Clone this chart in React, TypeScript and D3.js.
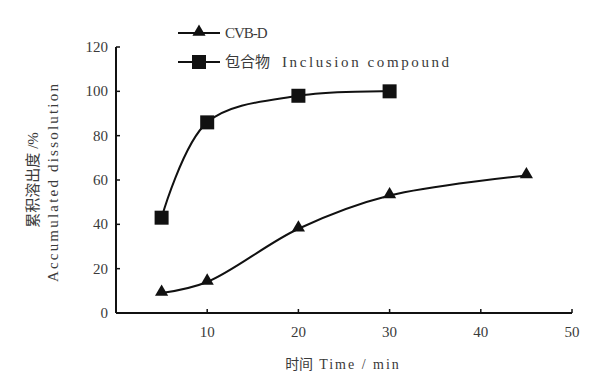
import React from "react";
import * as d3 from "d3";

const times = [5, 10, 20, 30, 45];
const cvbd = [9, 14, 38, 53, 62];
const inclusionTimes = [5, 10, 20, 30];
const inclusion = [43, 86, 98, 100];
const xTicks = [10, 20, 30, 40, 50];
const yTicks = [0, 20, 40, 60, 80, 100, 120];
const seriesNames = ["CVB-D", "Inclusion compound"];
const seriesNamesZh = ["", "包合物"];

export default function App() {
  const W = 605, H = 376;
  const x = d3.scaleLinear().domain([0, 50]).range([116, 572]);
  const y = d3.scaleLinear().domain([0, 120]).range([313, 47]);
  const line = d3.line<[number, number]>().x(d => x(d[0])).y(d => y(d[1])).curve(d3.curveCatmullRom.alpha(0.5));
  const tri = d3.symbol().type(d3.symbolTriangle).size(75)();
  const serif = "'Liberation Serif', 'DejaVu Serif', serif";
  const cjk = "'Noto Sans CJK SC', sans-serif";
  const txt = "#3a3a3a";
  const d1 = line(times.map((t, i) => [t, cvbd[i]] as [number, number])) || "";
  const d2 = line(inclusionTimes.map((t, i) => [t, inclusion[i]] as [number, number])) || "";
  return (
    <svg width={W} height={H} style={{ position: "absolute", left: 0, top: 0, background: "#fff" }} fontFamily={serif}>
      <rect width={W} height={H} fill="#fff" />
      {/* axes */}
      <line x1={x(0)} x2={x(50)} y1={y(0)} y2={y(0)} stroke="#111" strokeWidth={2} />
      <line x1={x(0)} x2={x(0)} y1={y(0)} y2={y(120)} stroke="#111" strokeWidth={2} />
      {xTicks.map(t => (
        <g key={"x" + t}>
          <line x1={x(t)} x2={x(t)} y1={y(0)} y2={y(0) - 4} stroke="#111" strokeWidth={1.5} />
          <text x={x(t)} y={y(0) + 24} textAnchor="middle" fontSize={15} fill={txt}>{t}</text>
        </g>
      ))}
      {yTicks.map(t => (
        <g key={"y" + t}>
          <line x1={x(0)} x2={x(0) + 4} y1={y(t)} y2={y(t)} stroke="#111" strokeWidth={1.5} />
          <text x={108} y={y(t) + 5} textAnchor="end" fontSize={15} fill={txt}>{t}</text>
        </g>
      ))}
      {/* series */}
      <path d={d1} fill="none" stroke="#111" strokeWidth={2} />
      <path d={d2} fill="none" stroke="#111" strokeWidth={2} />
      {times.map((t, i) => (
        <path key={"t" + i} d={tri || ""} transform={`translate(${x(t)},${y(cvbd[i]) - 1})`} fill="#111" />
      ))}
      {inclusionTimes.map((t, i) => (
        <rect key={"s" + i} x={x(t) - 7} y={y(inclusion[i]) - 7} width={14} height={14} fill="#111" />
      ))}
      {/* legend */}
      <line x1={178} x2={220} y1={33} y2={33} stroke="#111" strokeWidth={2} />
      <path d={tri || ""} transform="translate(199,32)" fill="#111" />
      <text x={225} y={38} fontSize={15} fill={txt} fontFamily={serif} letterSpacing={-1}>{seriesNames[0]}</text>
      <line x1={178} x2={220} y1={62} y2={62} stroke="#111" strokeWidth={2} />
      <rect x={192} y={55} width={14} height={14} fill="#111" />
      <text x={225} y={67} fontSize={15} fill={txt}>
        <tspan fontFamily={cjk}>{seriesNamesZh[1]}</tspan>
        <tspan fontFamily={serif} dx={12} letterSpacing={2.6}>{seriesNames[1]}</tspan>
      </text>
      {/* axis titles */}
      <text x={343} y={369} textAnchor="middle" fontSize={14} fill={txt}>
        <tspan fontFamily={cjk}>时间</tspan>
        <tspan fontFamily={serif} dx={6} letterSpacing={2}>Time / min</tspan>
      </text>
      <text transform="translate(38,180) rotate(-90)" textAnchor="middle" fontSize={15} fill={txt}>
        <tspan fontFamily={cjk}>累积溶出度</tspan>
        <tspan fontFamily={serif} dx={4}>/%</tspan>
      </text>
      <text transform="translate(58,182) rotate(-90)" textAnchor="middle" fontSize={15} fill={txt} fontFamily={serif} letterSpacing={2.2}>Accumulated dissolution</text>
    </svg>
  );
}
